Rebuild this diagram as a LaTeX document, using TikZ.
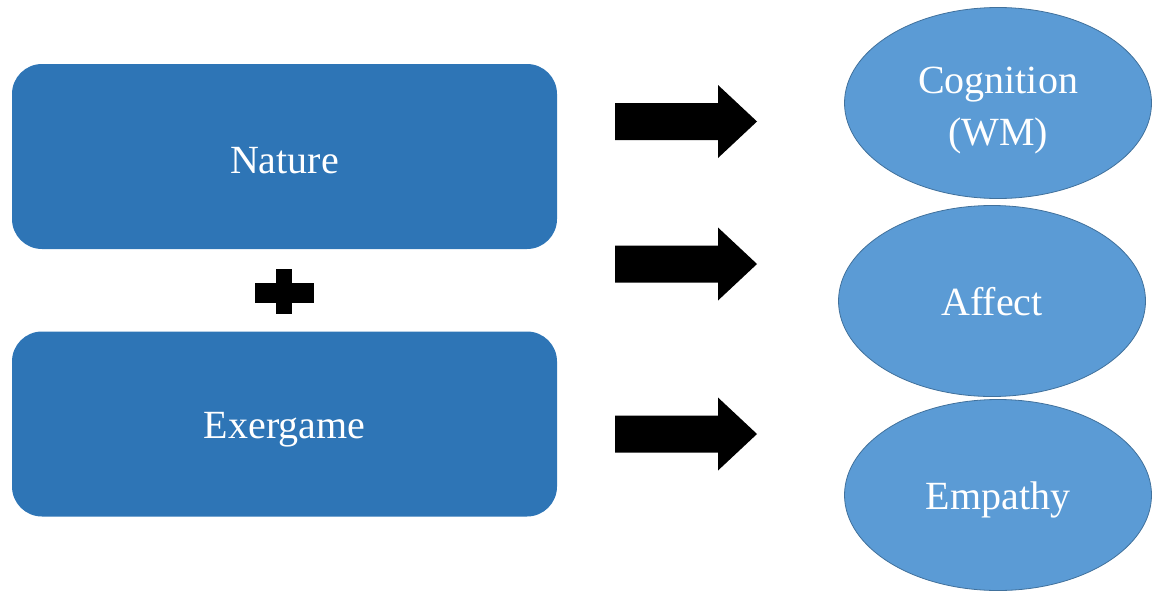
\documentclass[tikz,border=0pt]{standalone}
\usepackage{fontspec}
\setmainfont{Liberation Serif}
\usetikzlibrary{shapes.geometric}
\definecolor{boxblue}{HTML}{2E75B6}
\definecolor{ellblue}{HTML}{5B9BD5}
\definecolor{ellline}{HTML}{41719C}
\tikzset{
  bluebox/.style={fill=boxblue, draw=none, rounded corners=30pt, minimum width=545pt, minimum height=185pt, inner sep=0pt, text=white, font=\fontsize{40}{48}\selectfont},
  oval/.style={ellipse, fill=ellblue, draw=ellline, line width=0.8pt, minimum width=307pt, minimum height=191pt, inner sep=0pt, text=white, align=center, font=\fontsize{40}{50}\selectfont},
}
\newcommand{\lowered}[2]{\raisebox{-#1}[\height][\depth]{#2}}
\newcommand{\fatarrow}[1]{%
  \fill[black] (615,#1-18.5) -- (718,#1-18.5) -- (718,#1-36.5) -- (757,#1) -- (718,#1+36.5) -- (718,#1+18.5) -- (615,#1+18.5) -- cycle;}
\begin{document}
\begin{tikzpicture}[x=1pt,y=-1pt]
\useasboundingbox (0,0) rectangle (1155,592);
\node[bluebox] (nature) at (284.5,156.5) {\lowered{4pt}{Nature}};
\node[bluebox] (exergame) at (284.5,424) {\lowered{6pt}{Exergame}};
\fill[black] (255,283) rectangle (314,303);
\fill[black] (276,269) rectangle (292,314);
\node[oval] (cog) at (998,103) {\lowered{6pt}{\begin{tabular}{@{}c@{}}Cognition\\[2pt](WM)\end{tabular}}};
\node[oval] (aff) at (992,301) {\lowered{1pt}{Affect}};
\node[oval] (emp) at (998,495) {\lowered{5pt}{Empathy}};
\fatarrow{121.5}
\fatarrow{264}
\fatarrow{434}
\end{tikzpicture}
\end{document}
